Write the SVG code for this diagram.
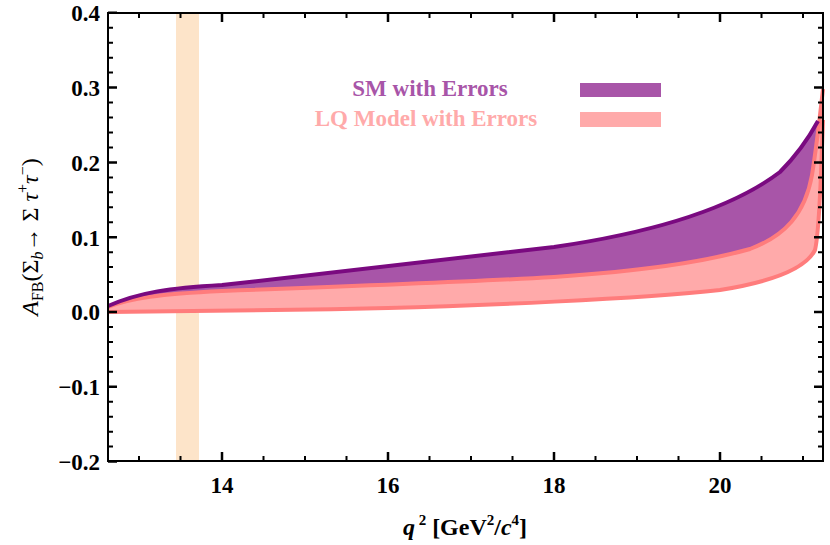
<svg xmlns="http://www.w3.org/2000/svg" width="830" height="545" viewBox="0 0 830 545">
<style>
text{font-family:"Liberation Serif","Times New Roman","DejaVu Serif",serif}
.tk{font-weight:bold;font-size:23px;fill:#000}
.ax{stroke:#000;stroke-width:2;fill:none}
.maj{stroke:#000;stroke-width:2.5}
.min{stroke:#000;stroke-width:2}
</style>
<rect width="830" height="545" fill="#fff"/>
<g id="band"><rect x="176" y="13" width="23" height="448" fill="#fde4c9"/></g>
<g id="lq">
<path d="M108,307 C130,298 160,294 222,291 C305,288 470,282 554,277 C640,271 700,263 750,249 C785,236 805,214 812,175 C816,150 819,125 823,89 L823,120 C821,170 820,230 815,250 C805,270 770,282 720,290 C640,299 470,306 388,308 C300,310 222,311 108,312 Z" fill="#ffaaaa"/>
<path d="M108,312 C222,311 300,310 388,308 C470,306 640,299 720,290 C770,282 805,270 815,250 C820,230 821,170 823,120" fill="none" stroke="#ff7c7c" stroke-width="4" stroke-linejoin="round"/>
</g>
<g id="sm">
<path d="M108,306 C140,292 170,288 222,285 C350,271 480,256 554,247 C650,233 730,210 780,172 C800,152 812,132 818,121 C816,140 814,158 812,175 C805,214 785,236 750,249 C700,263 640,271 554,277 C470,282 305,288 222,291 C160,294 130,298 108,307 Z" fill="#a855a8"/>
<path d="M108,307 C130,298 160,294 222,291 C305,288 470,282 554,277 C640,271 700,263 750,249 C785,236 805,214 812,175 C816,150 819,125 823,89" fill="none" stroke="#ff7c7c" stroke-width="4" stroke-linejoin="round"/>
<path d="M108,306 C140,292 170,288 222,285 C350,271 480,256 554,247 C650,233 730,210 780,172 C800,152 812,132 818,121" fill="none" stroke="#7a0a80" stroke-width="4" stroke-linejoin="round"/>
</g>
<g id="legend">
<text x="430" y="96" text-anchor="middle" font-weight="bold" font-size="23" fill="#a855a8">SM with Errors</text>
<text x="426" y="126" text-anchor="middle" font-weight="bold" font-size="23" fill="#ffaaaa">LQ Model with Errors</text>
<rect x="580" y="83" width="81" height="14" fill="#a855a8"/>
<rect x="580" y="112" width="81" height="15" fill="#ffaaaa"/>
</g>
<g id="axes">
<rect x="108" y="13" width="715" height="448" class="ax"/>
<path class="maj" d="M108,12.8h9M108,87.6h9M108,162.4h9M108,237.2h9M108,312h9M108,386.8h9M108,461.6h9M823,87.6h-9M823,162.4h-9M823,237.2h-9M823,312h-9M823,386.8h-9M222,461v-9M388,461v-9M554,461v-9M720,461v-9M222,13v9M388,13v9M554,13v9M720,13v9"/>
<path class="min" d="M108,27.8h5M108,42.7h5M108,57.7h5M108,72.6h5M108,102.6h5M108,117.5h5M108,132.5h5M108,147.4h5M108,177.4h5M108,192.3h5M108,207.3h5M108,222.2h5M108,252.2h5M108,267.1h5M108,282.1h5M108,297h5M108,327h5M108,341.9h5M108,356.9h5M108,371.8h5M108,401.8h5M108,416.7h5M108,431.7h5M108,446.6h5
M823,27.8h-5M823,42.7h-5M823,57.7h-5M823,72.6h-5M823,102.6h-5M823,117.5h-5M823,132.5h-5M823,147.4h-5M823,177.4h-5M823,192.3h-5M823,207.3h-5M823,222.2h-5M823,252.2h-5M823,267.1h-5M823,282.1h-5M823,297h-5M823,327h-5M823,341.9h-5M823,356.9h-5M823,371.8h-5M823,401.8h-5M823,416.7h-5M823,431.7h-5M823,446.6h-5
M139,461v-5M180.5,461v-5M263.5,461v-5M305,461v-5M346.5,461v-5M429.5,461v-5M471,461v-5M512.5,461v-5M595.5,461v-5M637,461v-5M678.5,461v-5M761.5,461v-5M803,461v-5
M139,13v5M180.5,13v5M263.5,13v5M305,13v5M346.5,13v5M429.5,13v5M471,13v5M512.5,13v5M595.5,13v5M637,13v5M678.5,13v5M761.5,13v5M803,13v5"/>
<text class="tk" x="100" y="21" text-anchor="end">0.4</text>
<text class="tk" x="100" y="96" text-anchor="end">0.3</text>
<text class="tk" x="100" y="171" text-anchor="end">0.2</text>
<text class="tk" x="100" y="246" text-anchor="end">0.1</text>
<text class="tk" x="100" y="320" text-anchor="end">0.0</text>
<text class="tk" x="100" y="395" text-anchor="end">−0.1</text>
<text class="tk" x="100" y="470" text-anchor="end">−0.2</text>
<text class="tk" x="222" y="493" text-anchor="middle">14</text>
<text class="tk" x="388" y="493" text-anchor="middle">16</text>
<text class="tk" x="554" y="493" text-anchor="middle">18</text>
<text class="tk" x="720" y="493" text-anchor="middle">20</text>
<text x="465" y="535" text-anchor="middle" font-weight="bold" font-size="24"><tspan font-style="italic">q</tspan><tspan font-size="15" dy="-10"> 2</tspan><tspan dy="10"> [GeV</tspan><tspan font-size="15" dy="-10">2</tspan><tspan dy="10">/</tspan><tspan font-style="italic">c</tspan><tspan font-size="15" dy="-10">4</tspan><tspan dy="10">]</tspan></text>
<text transform="translate(38,237) rotate(-90)" text-anchor="middle" font-size="24"><tspan font-style="italic">A</tspan><tspan font-size="16" dy="5">FB</tspan><tspan dy="-5">(Σ</tspan><tspan font-size="16" font-style="italic" dy="5">b</tspan><tspan dy="-5">→ Σ </tspan><tspan font-style="italic">τ</tspan><tspan font-size="16" dy="-10">+</tspan><tspan font-style="italic" dy="10">τ</tspan><tspan font-size="16" dy="-10">−</tspan><tspan dy="10">)</tspan></text>
</g>
</svg>
